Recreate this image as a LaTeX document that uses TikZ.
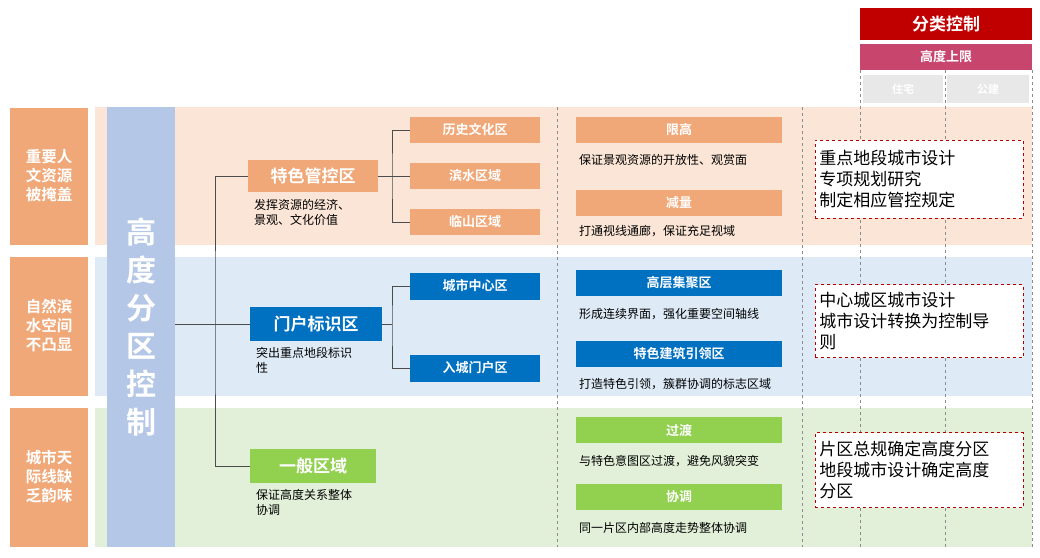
\documentclass[tikz,border=0pt]{standalone}
\usepackage{fontspec}
\setmainfont{Noto Sans CJK SC}
\newfontfamily\cjkb{Noto Sans CJK SC Bold}
\begin{document}
\begin{tikzpicture}[x=1pt,y=-1pt,
 orb/.style={fill=or,text=white,font=\cjkb\fontsize{15.5}{19}\selectfont,inner sep=0},
 lv/.style={fill=or,text=white,font=\cjkb\fontsize{13}{15}\selectfont,inner sep=0},
 desc/.style={font=\fontsize{12}{15}\selectfont,align=left,anchor=north west,inner sep=0},
 ln/.style={draw=black!70,line width=0.6pt},
 dv/.style={draw=black!45,dashed,line width=0.7pt},
 rb/.style={draw=red!70!black,dashed,line width=0.7pt,fill=white,font=\fontsize{17}{21}\selectfont,align=left,text width=200,inner sep=4pt,anchor=west}]
\definecolor{or}{HTML}{F0A878}
\definecolor{pe}{HTML}{FBE5D6}
\definecolor{lb}{HTML}{DEEBF7}
\definecolor{lg}{HTML}{E2F0D9}
\definecolor{bar}{HTML}{B4C7E7}
\definecolor{bl}{HTML}{0070C0}
\definecolor{gr}{HTML}{92D050}
\definecolor{rd}{HTML}{C00000}
\definecolor{mg}{HTML}{C8466E}
\useasboundingbox (0,0) rectangle (1040,557);
\fill[white] (0,0) rectangle (1040,557);
% bands
\fill[pe] (95,107) rectangle (1032,245);
\fill[lb] (95,257) rectangle (1032,396);
\fill[lg] (95,408) rectangle (1032,547);
% left boxes
\node[orb,minimum width=78,minimum height=137,align=center] (p1) at (49,176) {重要人\\文资源\\被掩盖};
\node[orb,minimum width=78,minimum height=139,align=center] (p2) at (49,326) {自然滨\\水空间\\不凸显};
\node[orb,minimum width=78,minimum height=139,align=center] (p3) at (49,477) {城市天\\际线缺\\乏韵味};
% bar
\node[fill=bar,minimum width=68,minimum height=440,inner sep=0,text=white,font=\cjkb\fontsize{30}{38}\selectfont,align=center] (bar) at (141,327) {高\\度\\分\\区\\控\\制};
% dividers
\draw[dv] (557,107) -- (557,547);
\draw[dv] (802,107) -- (802,547);
\draw[dv] (860,70) -- (860,547);
\draw[dv] (945,70) -- (945,547);
\draw[dv] (1032,70) -- (1032,547);
% top right
\node[fill=rd,text=white,font=\cjkb\fontsize{17}{20}\selectfont,minimum width=172,minimum height=32,inner sep=0] (fl) at (946,24) {分类控制};
\node[fill=mg,text=white,font=\cjkb\fontsize{13}{15}\selectfont,minimum width=172,minimum height=26,inner sep=0] (gd) at (946,57) {高度上限};
\node[fill=black!9,text=white,font=\cjkb\fontsize{11}{13}\selectfont,minimum width=80,minimum height=28,inner sep=0] (zz) at (903,89) {住宅};
\node[fill=black!9,text=white,font=\cjkb\fontsize{11}{13}\selectfont,minimum width=82,minimum height=28,inner sep=0] (gj) at (988,89) {公建};
% level1
\node[orb,font=\cjkb\fontsize{17}{20}\selectfont,minimum width=130,minimum height=32] (a1) at (313,176) {特色管控区};
\node[orb,fill=bl,font=\cjkb\fontsize{17}{20}\selectfont,minimum width=132,minimum height=34] (a2) at (316,324) {门户标识区};
\node[orb,fill=gr,font=\cjkb\fontsize{17}{20}\selectfont,minimum width=126,minimum height=34] (a3) at (313,466) {一般区域};
\node[desc] at (254,199) {发挥资源的经济、\\景观、文化价值};
\node[desc] at (256,347) {突出重点地段标识\\性};
\node[desc] at (256,489) {保证高度关系整体\\协调};
\coordinate (j0) at (215,324);
\draw[ln] (bar.east |- j0) -- (j0);
\draw[ln] (a1.west) -| (215,324) |- (a3.west);
\draw[ln] (j0) -- (a2.west);
% level2
\node[lv,minimum width=130,minimum height=26] (b1) at (475,130) {历史文化区};
\node[lv,minimum width=130,minimum height=26] (b2) at (475,176) {滨水区域};
\node[lv,minimum width=130,minimum height=26] (b3) at (475,222) {临山区域};
\node[lv,fill=bl,minimum width=130,minimum height=27] (b4) at (475,286) {城市中心区};
\node[lv,fill=bl,minimum width=130,minimum height=27] (b5) at (475,368) {入城门户区};
\draw[ln] (a1.east) -- (b2.west);
\draw[ln] (b1.west) -| (392,176) |- (b3.west);
\draw[ln] (a2.east) -- (392,324);
\draw[ln] (b4.west) -| (392,324) |- (b5.west);
% right column
\node[lv,minimum width=206,minimum height=26] (c1) at (679,130) {限高};
\node[desc] at (579,154) {保证景观资源的开放性、观赏面};
\node[lv,minimum width=206,minimum height=26] (c2) at (679,203) {减量};
\node[desc] at (579,225) {打通视线通廊，保证充足视域};
\node[lv,fill=bl,minimum width=206,minimum height=26] (c3) at (679,283) {高层集聚区};
\node[desc] at (579,308) {形成连续界面，强化重要空间轴线};
\node[lv,fill=bl,minimum width=206,minimum height=26] (c4) at (679,354) {特色建筑引领区};
\node[desc] at (579,378) {打造特色引领，簇群协调的标志区域};
\node[lv,fill=gr,minimum width=206,minimum height=26] (c5) at (679,430) {过渡};
\node[desc] at (579,455) {与特色意图区过渡，避免风貌突变};
\node[lv,fill=gr,minimum width=206,minimum height=26] (c6) at (679,497) {协调};
\node[desc] at (579,522) {同一片区内部高度走势整体协调};
% red dashed boxes
\node[rb,minimum height=78] (r1) at (815,179) {重点地段城市设计\\专项规划研究\\制定相应管控规定};
\node[rb,minimum height=73] (r2) at (815,321) {中心城区城市设计\\城市设计转换为控制导\\则};
\node[rb,minimum height=75] (r3) at (815,470) {片区总规确定高度分区\\地段城市设计确定高度\\分区};
\end{tikzpicture}
\end{document}
